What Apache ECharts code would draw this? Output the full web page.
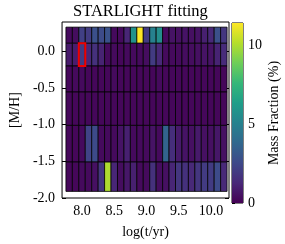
<!DOCTYPE html>
<html><head><meta charset="utf-8">
<script src="https://cdn.jsdelivr.net/npm/echarts@6/dist/echarts.min.js"></script>
<style>html,body{margin:0;padding:0;background:#fff}#c{width:285px;height:244px}</style>
</head><body><div id="c"></div>
<script>
// ---- data ----
const logAges = [7.8, 7.9, 8.0, 8.1, 8.2, 8.3, 8.4, 8.5, 8.6, 8.7, 8.8, 8.9, 9.0, 9.1, 9.2, 9.3, 9.4, 9.5, 9.6, 9.7, 9.8, 9.9, 10.0, 10.1, 10.2];
const metallicities = [0.22, 0.00, -0.40, -0.71, -1.31, -1.71];
const mass_p022 = [0.3, 0.4, 2.2, 2.0, 2.8, 2.6, 2.9, 0.3, 0.3, 1.2, 5.8, 11.4, 2.0, 5.0, 5.6, 0.3, 0.6, 0.5, 0.6, 0.5, 0.6, 1.0, 1.3, 2.8, 1.8];
const mass_p000 = [0.8, 0.9, 2.0, 1.2, 1.6, 1.1, 0.3, 0.3, 0.2, 0.3, 0.3, 0.3, 0.4, 2.0, 1.3, 0.3, 0.3, 0.3, 0.4, 0.4, 0.5, 0.6, 0.6, 1.1, 1.4];
const mass_m040 = [0.2, 0.3, 0.3, 0.2, 0.2, 0.2, 0.2, 0.3, 0.2, 0.2, 0.2, 0.2, 0.2, 0.2, 0.3, 0.2, 0.2, 0.2, 0.2, 0.2, 0.2, 0.2, 0.2, 0.2, 0.2];
const mass_m071 = [0.2, 0.2, 0.2, 0.2, 0.2, 0.2, 0.2, 0.2, 0.2, 0.2, 0.2, 0.2, 0.2, 0.2, 0.2, 0.2, 0.2, 0.2, 0.2, 0.2, 0.2, 0.2, 0.2, 0.2, 0.2];
const mass_m131 = [0.2, 0.2, 0.3, 2.3, 2.6, 0.3, 0.3, 0.3, 0.6, 1.0, 0.3, 0.3, 0.3, 0.6, 0.3, 3.6, 1.5, 0.8, 0.6, 0.5, 0.8, 0.5, 0.5, 0.7, 0.5];
const mass_m171 = [0.2, 0.2, 0.3, 0.3, 0.5, 1.8, 10.0, 1.2, 0.4, 0.7, 1.0, 0.3, 0.3, 1.6, 0.4, 0.5, 1.2, 1.8, 1.6, 1.3, 1.8, 2.0, 2.0, 2.6, 1.3];
const massRows = [mass_p022, mass_p000, mass_m040, mass_m071, mass_m131, mass_m171];
const xTicks = [8.0, 8.5, 9.0, 9.5, 10.0];
const yTicks = [0.0, -0.5, -1.0, -1.5, -2.0];
const cbarTicks = [0, 5, 10];
const highlightCell = [8.0, 0.0];
const colorMax = 11.4;
const viridis = ['#440154', '#482878', '#3e4989', '#31688e', '#26828e', '#1f9e89', '#35b779', '#6ece58', '#b5de2b', '#fde725'];

// ---- cell edges from centres (midpoints) ----
function cellEdges(centers) {
  const s = centers.slice().sort((a, b) => a - b);
  return centers.map(c => {
    const i = s.indexOf(c);
    const lo = i === 0 ? s[0] - (s[1] - s[0]) / 2 : (s[i - 1] + s[i]) / 2;
    const hi = i === s.length - 1 ? s[i] + (s[i] - s[i - 1]) / 2 : (s[i] + s[i + 1]) / 2;
    return [lo, hi];
  });
}
const xEdges = cellEdges(logAges);
const yEdges = cellEdges(metallicities);

const cells = [];
metallicities.forEach((m, yi) => {
  logAges.forEach((a, xi) => cells.push([a, m, massRows[yi][xi], xi, yi]));
});
const hl = [[highlightCell[0], highlightCell[1], 0, logAges.indexOf(highlightCell[0]), metallicities.indexOf(highlightCell[1])]];

const FONT = 'Liberation Serif';
const txt = { color: '#000', fontFamily: FONT, fontSize: 14 };

function rectFor(api) {
  const xi = api.value(3), yi = api.value(4);
  const p0 = api.coord([xEdges[xi][0], yEdges[yi][1]]);
  const p1 = api.coord([xEdges[xi][1], yEdges[yi][0]]);
  return { x: p0[0], y: p0[1], width: p1[0] - p0[0], height: p1[1] - p0[1] };
}

const chart = echarts.init(document.getElementById('c'), null, { renderer: 'canvas' });
chart.setOption({
  backgroundColor: '#fff',
  animation: false,
  title: { text: 'STARLIGHT fitting', left: 73, top: 3, padding: [0, 0, 0, 0], textStyle: { color: '#000', fontFamily: FONT, fontSize: 16.5, fontWeight: 'normal' } },
  grid: [
    { left: 50, top: 22, width: 179, height: 181, show: true, borderColor: '#000', borderWidth: 1, backgroundColor: 'transparent' },
    { left: 232, top: 23, width: 11, height: 180, show: true, borderColor: '#000', borderWidth: 1, backgroundColor: 'transparent' }
  ],
  xAxis: [
    { type: 'value', gridIndex: 0, min: 7.69, max: 10.28, position: 'bottom',
      axisLine: { show: false }, splitLine: { show: false },
      axisTick: { inside: true, length: 4, customValues: xTicks, lineStyle: { color: '#000' } },
      axisLabel: Object.assign({ customValues: xTicks, margin: 6, formatter: v => v.toFixed(1) }, txt),
      name: 'log(t/yr)', nameLocation: 'middle', nameGap: 27, nameTextStyle: txt },
    { type: 'value', gridIndex: 0, min: 7.69, max: 10.28, position: 'top',
      axisLine: { show: false }, splitLine: { show: false },
      axisTick: { inside: true, length: 4, customValues: xTicks, lineStyle: { color: '#000' } },
      axisLabel: { show: false } },
    { type: 'value', gridIndex: 1, min: 0, max: 1, show: false }
  ],
  yAxis: [
    { type: 'value', gridIndex: 0, min: -2.0, max: 0.4, position: 'left',
      axisLine: { show: false }, splitLine: { show: false },
      axisTick: { inside: true, length: 4, customValues: yTicks, lineStyle: { color: '#000' } },
      axisLabel: Object.assign({ customValues: yTicks, margin: 7, formatter: v => v.toFixed(1) }, txt),
      name: '[M/H]', nameLocation: 'middle', nameGap: 30, nameTextStyle: txt },
    { type: 'value', gridIndex: 0, min: -2.0, max: 0.4, position: 'right',
      axisLine: { show: false }, splitLine: { show: false },
      axisTick: { inside: true, length: 4, customValues: yTicks, lineStyle: { color: '#000' } },
      axisLabel: { show: false } },
    { type: 'value', gridIndex: 1, min: 0, max: colorMax, position: 'right',
      axisLine: { show: false }, splitLine: { show: false },
      axisTick: { inside: false, length: 3, customValues: cbarTicks, lineStyle: { color: '#000' } },
      axisLabel: Object.assign({ customValues: cbarTicks, margin: 5 }, txt),
      name: 'Mass Fraction (%)', nameLocation: 'middle', nameGap: 24, nameRotate: 90, nameTextStyle: txt }
  ],
  visualMap: {
    show: false, type: 'continuous', min: 0, max: colorMax, dimension: 2, seriesIndex: 0,
    inRange: { color: viridis }
  },
  series: [
    { type: 'custom', name: 'mass', xAxisIndex: 0, yAxisIndex: 0, data: cells, encode: { x: 0, y: 1 },
      renderItem: (params, api) => ({ type: 'rect', shape: rectFor(api),
        style: { fill: api.visual('color'), stroke: '#000', lineWidth: 0.8 } }) },
    { type: 'custom', name: 'highlight', xAxisIndex: 0, yAxisIndex: 0, data: hl, encode: { x: 0, y: 1 }, z: 5,
      renderItem: (params, api) => ({ type: 'rect', shape: rectFor(api),
        style: { fill: 'none', stroke: '#ee0000', lineWidth: 2 } }) },
    { type: 'custom', name: 'colorbar', xAxisIndex: 2, yAxisIndex: 2, data: [[0, 0, colorMax]],
      renderItem: (params, api) => {
        const p0 = api.coord([0, api.value(2)]);
        const p1 = api.coord([1, 0]);
        return { type: 'rect', shape: { x: p0[0], y: p0[1], width: p1[0] - p0[0], height: p1[1] - p0[1] },
          style: { fill: { type: 'linear', x: 0, y: 1, x2: 0, y2: 0,
            colorStops: viridis.map((c, i) => ({ offset: i / (viridis.length - 1), color: c })) } } };
      } }
  ]
});
</script>
</body></html>
